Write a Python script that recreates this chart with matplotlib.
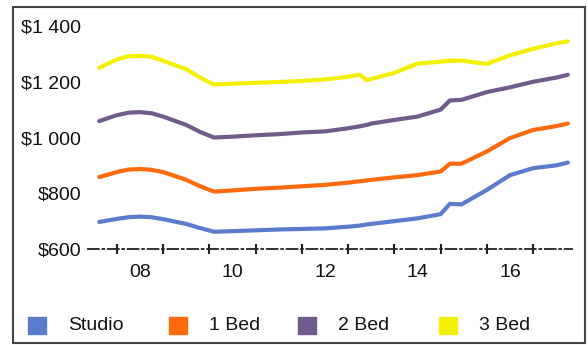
import matplotlib.pyplot as plt
from matplotlib.patches import Rectangle

# data
years = [2007.12, 2007.5, 2007.75, 2008.0, 2008.25, 2008.5, 2009.0, 2009.3,
         2009.6, 2010.0, 2010.5, 2011.0, 2011.5, 2012.0, 2012.5, 2012.75,
         2012.9, 2013.0, 2013.5, 2014.0, 2014.5, 2014.7, 2014.95, 2015.5,
         2016.0, 2016.5, 2017.0, 2017.25]
studio = [697, 708, 714, 716, 714, 707, 690, 675,
          662, 664, 667, 670, 672, 674, 680, 684,
          688, 690, 700, 710, 725, 762, 760, 812,
          865, 890, 900, 910]
bed1 = [858, 876, 885, 887, 884, 876, 848, 825,
        806, 810, 816, 820, 825, 830, 838, 843,
        846, 848, 857, 865, 878, 906, 906, 950,
        998, 1027, 1041, 1050]
bed2 = [1059, 1080, 1089, 1091, 1087, 1075, 1045, 1020,
        1000, 1003, 1008, 1012, 1018, 1022, 1033, 1040,
        1045, 1050, 1063, 1075, 1100, 1133, 1135, 1163,
        1180, 1200, 1215, 1225]
bed3 = [1250, 1280, 1291, 1293, 1290, 1275, 1245, 1215,
        1190, 1193, 1196, 1199, 1203, 1208, 1218, 1225,
        1206, 1210, 1232, 1265, 1272, 1275, 1276, 1264,
        1295, 1318, 1338, 1345]

series = [('Studio', studio, '#5b7ccc'),
          ('1 Bed', bed1, '#ff6a0c'),
          ('2 Bed', bed2, '#6f5c8c'),
          ('3 Bed', bed3, '#f4f000')]

yticks = [600, 800, 1000, 1200, 1400]
ytick_labels = ['$600', '$800', '$1 000', '$1 200', '$1 400']
xticks = [2008, 2010, 2012, 2014, 2016]
xtick_labels = ['08', '10', '12', '14', '16']

plt.rcParams['font.family'] = ['Liberation Sans', 'DejaVu Sans']

W, H = 588, 345
fig = plt.figure(figsize=(W/100, H/100), dpi=100)
ax = fig.add_axes([88/W, 96/H, 484/W, 223/H])

for name, vals, col in series:
    ax.plot(years, vals, color=col, lw=3.0, solid_capstyle='round',
            solid_joinstyle='round')

ax.set_xlim(2006.876, 2017.34)
ax.set_ylim(600, 1400)
ax.set_yticks(yticks)
ax.set_yticklabels(ytick_labels)
ax.set_xticks(xticks)
ax.set_xticklabels(xtick_labels)
ax.set_xticks([y + 0.5 for y in range(2007, 2017)], minor=True)
ax.tick_params(axis='y', length=0, pad=5, labelsize=14, labelcolor='#111111')
ax.tick_params(axis='x', which='major', length=0, pad=11, labelsize=14,
               labelcolor='#111111')
ax.tick_params(axis='x', which='minor', length=7, direction='inout',
               width=1.5, color='#222222')
for s in ['top', 'right', 'left']:
    ax.spines[s].set_visible(False)
ax.spines['bottom'].set_linestyle((0, (6, 2, 1, 2)))
ax.spines['bottom'].set_linewidth(1.3)
ax.spines['bottom'].set_color('#222222')

# legend
leg_x = [28, 169, 298, 439]
for (name, vals, col), lx in zip(series, leg_x):
    fig.patches.append(Rectangle((lx/W, (H-334)/H), 18/W, 17/H,
                                 transform=fig.transFigure, color=col))
    fig.text((lx + 40)/W, (H-325)/H, name, fontsize=14, va='center',
             color='#111111')

# outer frame
fig.patches.append(Rectangle((13/W, (H-343)/H), 572/W, 336/H,
                             transform=fig.transFigure, fill=False,
                             edgecolor='#444444', lw=1.5))

fig.savefig('out.png', dpi=100)
